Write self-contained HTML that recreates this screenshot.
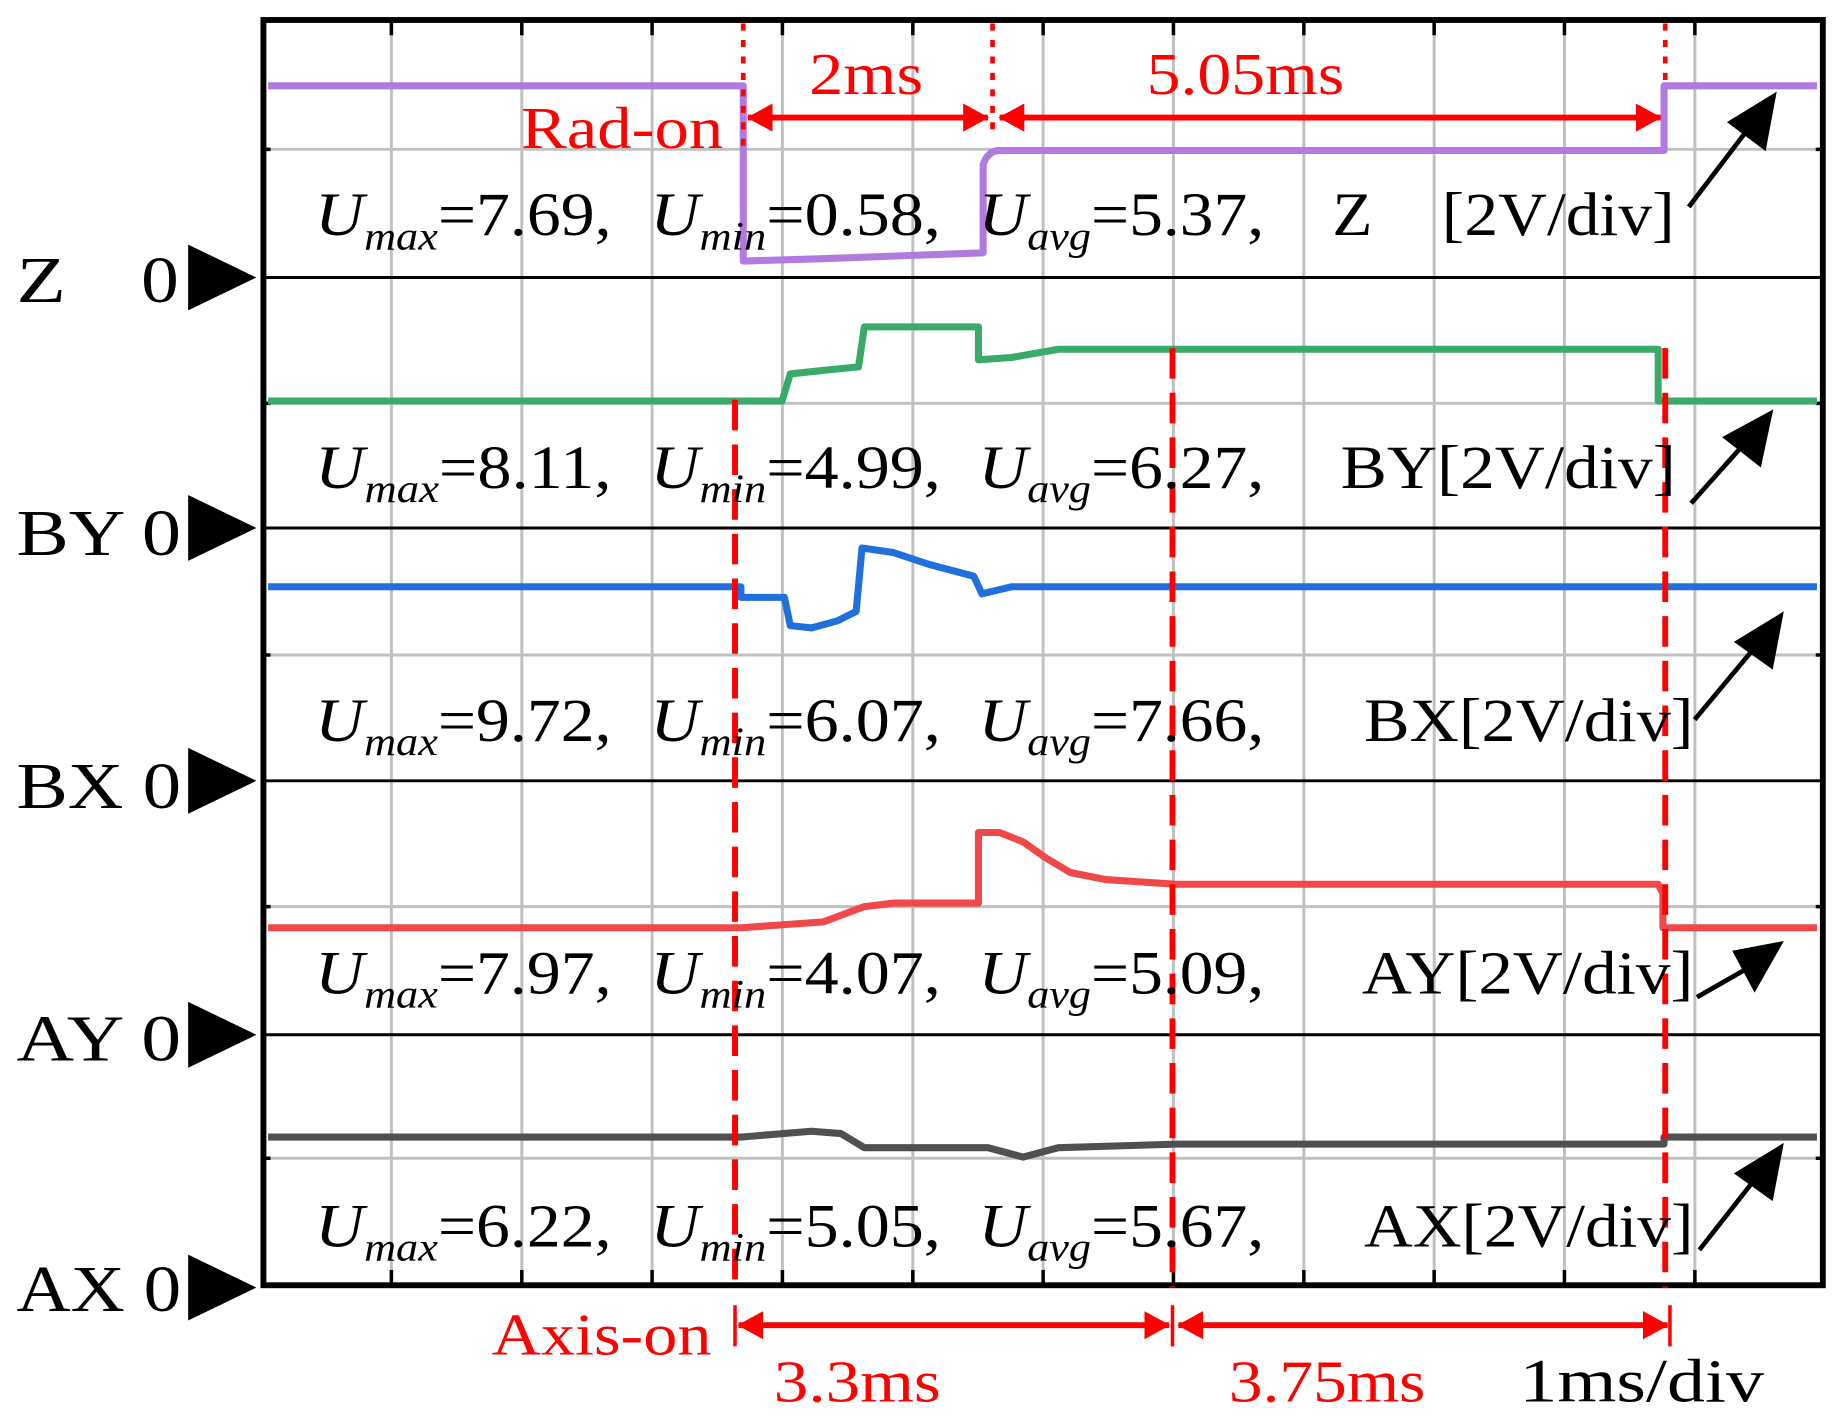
<!DOCTYPE html>
<html><head><meta charset="utf-8"><style>
html,body{margin:0;padding:0;background:#fff;}
svg{display:block}
text{font-family:"Liberation Serif",serif;}
</style></head><body>
<svg width="1844" height="1424" viewBox="0 0 1568 1211" preserveAspectRatio="none" xmlns="http://www.w3.org/2000/svg">
<rect width="1568" height="1211" fill="#fff"/>
<defs>
<marker id="ra" markerWidth="22" markerHeight="24" refX="21" refY="12" orient="auto-start-reverse" markerUnits="userSpaceOnUse" viewBox="0 0 22 24"><path d="M0,0L22,12L0,24z" fill="#f00"/></marker>
</defs>
<g stroke="#c0c0c0" stroke-width="2.5">
<line x1="332.8" y1="15" x2="332.8" y2="1095"/><line x1="443.7" y1="15" x2="443.7" y2="1095"/><line x1="554.5" y1="15" x2="554.5" y2="1095"/><line x1="665.3" y1="15" x2="665.3" y2="1095"/><line x1="776.2" y1="15" x2="776.2" y2="1095"/><line x1="887" y1="15" x2="887" y2="1095"/><line x1="997.8" y1="15" x2="997.8" y2="1095"/><line x1="1108.7" y1="15" x2="1108.7" y2="1095"/><line x1="1219.5" y1="15" x2="1219.5" y2="1095"/><line x1="1330.3" y1="15" x2="1330.3" y2="1095"/><line x1="1441.2" y1="15" x2="1441.2" y2="1095"/>
<line x1="222" y1="127" x2="1552" y2="127"/><line x1="222" y1="343" x2="1552" y2="343"/><line x1="222" y1="557" x2="1552" y2="557"/><line x1="222" y1="771" x2="1552" y2="771"/><line x1="222" y1="985" x2="1552" y2="985"/>
</g>
<g stroke="#000" stroke-width="2.5">
<line x1="222" y1="236" x2="1552" y2="236"/><line x1="222" y1="449" x2="1552" y2="449"/><line x1="222" y1="664" x2="1552" y2="664"/><line x1="222" y1="880" x2="1552" y2="880"/>
</g>
<g stroke="#000" stroke-width="3">
<path d="M332.8,15v15M443.7,15v15M554.5,15v15M665.3,15v15M776.2,15v15M887,15v15M997.8,15v15M1108.7,15v15M1219.5,15v15M1330.3,15v15M1441.2,15v15"/>
<path d="M332.8,1095v-15M443.7,1095v-15M554.5,1095v-15M665.3,1095v-15M776.2,1095v-15M887,1095v-15M997.8,1095v-15M1108.7,1095v-15M1219.5,1095v-15M1330.3,1095v-15M1441.2,1095v-15"/>
<path d="M222,127h8M222,343h8M222,557h8M222,771h8M222,985h8M1552,127h-8M1552,343h-8M1552,557h-8M1552,771h-8M1552,985h-8"/>
</g>
<rect x="224" y="17" width="1326" height="1076" fill="none" stroke="#000" stroke-width="5"/>
<g fill="none" stroke-width="6" stroke-linejoin="round">
<path stroke="#b07ae0" d="M228,73H632V222L700,220L836,215V140Q840,128 850,128H1415V73H1545"/>
<path stroke="#3aaa6a" d="M228,341H665L672,318L700,315L730,312L735,278H832V306L860,304L900,297H1410V341H1545"/>
<path stroke="#1f6fdf" d="M228,499H630V508H667L672,532L690,534L712,528L728,520L733,466L760,470L790,480L828,490L835,505L860,499H1545"/>
<path stroke="#f04848" d="M228,789H630L700,784L735,771L760,768H832V708L850,708L870,716L890,730L910,742L940,748L1000,752H1410L1414,760V789H1545"/>
<path stroke="#505050" d="M228,967H630L690,962L715,964L735,976H840L870,984L900,976L1000,973H1415V967H1545"/>
</g>
<g stroke="#f00" stroke-width="4" fill="none">
<path d="M632,20V130M844,20V110M1416,20V75" stroke-dasharray="6,8"/>
<path d="M625,340V1095M997,296V1095M1416,296V1095" stroke-dasharray="26,12" stroke-width="5"/>
<line x1="636" y1="100" x2="840" y2="100" marker-start="url(#ra)" marker-end="url(#ra)" stroke-width="5"/>
<line x1="850" y1="100" x2="1412" y2="100" marker-start="url(#ra)" marker-end="url(#ra)" stroke-width="5"/>
<line x1="628" y1="1127" x2="994" y2="1127" marker-start="url(#ra)" marker-end="url(#ra)" stroke-width="5"/>
<line x1="1002" y1="1127" x2="1418" y2="1127" marker-start="url(#ra)" marker-end="url(#ra)" stroke-width="5"/>
<path d="M625,1110V1145M997,1110V1145M1420,1110V1145" stroke-width="3"/>
</g>
<g fill="#f00" font-size="50">
<text x="688" y="80" textLength="97" lengthAdjust="spacingAndGlyphs">2ms</text>
<text x="975" y="80" textLength="168" lengthAdjust="spacingAndGlyphs">5.05ms</text>
<text x="443" y="126" textLength="172" lengthAdjust="spacingAndGlyphs">Rad-on</text>
<text x="418" y="1152" textLength="187" lengthAdjust="spacingAndGlyphs">Axis-on</text>
<text x="658" y="1192" textLength="142" lengthAdjust="spacingAndGlyphs">3.3ms</text>
<text x="1045" y="1192" textLength="167" lengthAdjust="spacingAndGlyphs">3.75ms</text>
</g>
<text x="1292" y="1192" font-size="52" fill="#000" textLength="208" lengthAdjust="spacingAndGlyphs">1ms/div</text>
<g font-size="52" fill="#000">
<text x="268" y="200" textLength="252" lengthAdjust="spacingAndGlyphs"><tspan font-style="italic">U</tspan><tspan font-style="italic" font-size="34" dy="12">max</tspan><tspan dy="-12">=7.69,</tspan></text>
<text x="553" y="200" textLength="247" lengthAdjust="spacingAndGlyphs"><tspan font-style="italic">U</tspan><tspan font-style="italic" font-size="34" dy="12">min</tspan><tspan dy="-12">=0.58,</tspan></text>
<text x="832" y="200" textLength="243" lengthAdjust="spacingAndGlyphs"><tspan font-style="italic">U</tspan><tspan font-style="italic" font-size="34" dy="12">avg</tspan><tspan dy="-12">=5.37,</tspan></text>
<text x="1133" y="200" textLength="34" lengthAdjust="spacingAndGlyphs">Z</text><text x="1226" y="200" textLength="198" lengthAdjust="spacingAndGlyphs">[2V/div]</text>

<text x="268" y="415" textLength="252" lengthAdjust="spacingAndGlyphs"><tspan font-style="italic">U</tspan><tspan font-style="italic" font-size="34" dy="12">max</tspan><tspan dy="-12">=8.11,</tspan></text>
<text x="553" y="415" textLength="247" lengthAdjust="spacingAndGlyphs"><tspan font-style="italic">U</tspan><tspan font-style="italic" font-size="34" dy="12">min</tspan><tspan dy="-12">=4.99,</tspan></text>
<text x="832" y="415" textLength="243" lengthAdjust="spacingAndGlyphs"><tspan font-style="italic">U</tspan><tspan font-style="italic" font-size="34" dy="12">avg</tspan><tspan dy="-12">=6.27,</tspan></text>
<text x="1140" y="415" textLength="285" lengthAdjust="spacingAndGlyphs">BY[2V/div]</text>

<text x="268" y="630" textLength="252" lengthAdjust="spacingAndGlyphs"><tspan font-style="italic">U</tspan><tspan font-style="italic" font-size="34" dy="12">max</tspan><tspan dy="-12">=9.72,</tspan></text>
<text x="553" y="630" textLength="247" lengthAdjust="spacingAndGlyphs"><tspan font-style="italic">U</tspan><tspan font-style="italic" font-size="34" dy="12">min</tspan><tspan dy="-12">=6.07,</tspan></text>
<text x="832" y="630" textLength="243" lengthAdjust="spacingAndGlyphs"><tspan font-style="italic">U</tspan><tspan font-style="italic" font-size="34" dy="12">avg</tspan><tspan dy="-12">=7.66,</tspan></text>
<text x="1160" y="630" textLength="280" lengthAdjust="spacingAndGlyphs">BX[2V/div]</text>

<text x="268" y="845" textLength="252" lengthAdjust="spacingAndGlyphs"><tspan font-style="italic">U</tspan><tspan font-style="italic" font-size="34" dy="12">max</tspan><tspan dy="-12">=7.97,</tspan></text>
<text x="553" y="845" textLength="247" lengthAdjust="spacingAndGlyphs"><tspan font-style="italic">U</tspan><tspan font-style="italic" font-size="34" dy="12">min</tspan><tspan dy="-12">=4.07,</tspan></text>
<text x="832" y="845" textLength="243" lengthAdjust="spacingAndGlyphs"><tspan font-style="italic">U</tspan><tspan font-style="italic" font-size="34" dy="12">avg</tspan><tspan dy="-12">=5.09,</tspan></text>
<text x="1158" y="845" textLength="282" lengthAdjust="spacingAndGlyphs">AY[2V/div]</text>

<text x="268" y="1060" textLength="252" lengthAdjust="spacingAndGlyphs"><tspan font-style="italic">U</tspan><tspan font-style="italic" font-size="34" dy="12">max</tspan><tspan dy="-12">=6.22,</tspan></text>
<text x="553" y="1060" textLength="247" lengthAdjust="spacingAndGlyphs"><tspan font-style="italic">U</tspan><tspan font-style="italic" font-size="34" dy="12">min</tspan><tspan dy="-12">=5.05,</tspan></text>
<text x="832" y="1060" textLength="243" lengthAdjust="spacingAndGlyphs"><tspan font-style="italic">U</tspan><tspan font-style="italic" font-size="34" dy="12">avg</tspan><tspan dy="-12">=5.67,</tspan></text>
<text x="1160" y="1060" textLength="280" lengthAdjust="spacingAndGlyphs">AX[2V/div]</text>
</g>
<g stroke="#000" stroke-width="4" fill="#000">
<line x1="1436" y1="176" x2="1490" y2="105"/><path d="M1508,82L1500,125L1472,104z"/>
<line x1="1438" y1="428" x2="1488" y2="372"/><path d="M1505,352L1496,394L1468,372z"/>
<line x1="1441" y1="612" x2="1496" y2="546"/><path d="M1514,524L1506,566L1478,546z"/>
<line x1="1443" y1="848" x2="1492" y2="820"/><path d="M1513,803L1492,840L1476,810z"/>
<line x1="1445" y1="1063" x2="1496" y2="998"/><path d="M1514,976L1506,1018L1478,998z"/>
</g>
<g font-size="56" fill="#000">
<text x="14" y="257" textLength="42" lengthAdjust="spacingAndGlyphs">Z</text><text x="120" y="257" textLength="32" lengthAdjust="spacingAndGlyphs">0</text>
<text x="14" y="472" textLength="140" lengthAdjust="spacingAndGlyphs">BY 0</text>
<text x="14" y="687" textLength="140" lengthAdjust="spacingAndGlyphs">BX 0</text>
<text x="14" y="902" textLength="140" lengthAdjust="spacingAndGlyphs">AY 0</text>
<text x="14" y="1115" textLength="140" lengthAdjust="spacingAndGlyphs">AX 0</text>
</g>
<g fill="#000">
<path d="M160,208L218,236L160,264z"/>
<path d="M160,421L218,449L160,477z"/>
<path d="M160,636L218,664L160,692z"/>
<path d="M160,852L218,880L160,908z"/>
<path d="M160,1067L218,1095L160,1123z"/>
</g>
</svg>
</body></html>
